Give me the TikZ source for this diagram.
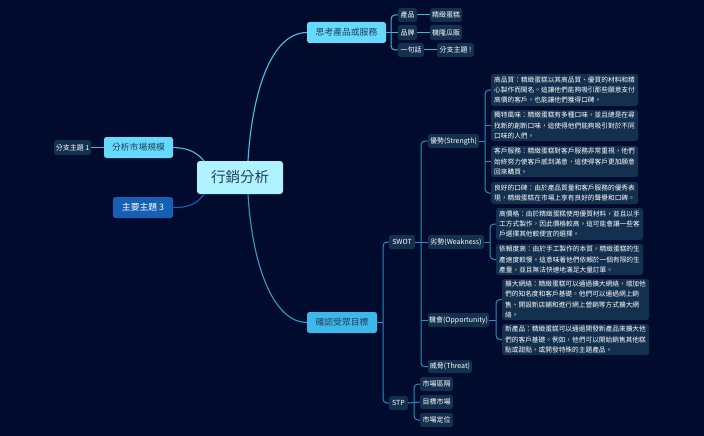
\documentclass[tikz,border=0pt]{standalone}
\usepackage{fontspec}
\setmainfont{Noto Sans CJK TC}
\definecolor{bgc}{HTML}{000B2E}
\definecolor{leafc}{HTML}{14304F}
\definecolor{linec}{HTML}{2A8CBF}
\definecolor{linet}{HTML}{45B4D6}
\definecolor{rootc}{HTML}{AFF3FF}
\definecolor{mainc}{HTML}{66D9FF}
\definecolor{audc}{HTML}{3DB8E8}
\definecolor{bluec}{HTML}{1560B5}
\definecolor{inkc}{HTML}{23405A}
\tikzset{
  x=1pt,y=-1pt,
  boxbase/.style={rounded corners=2.5pt,inner sep=0pt,anchor=center},
  leaf/.style={boxbase,fill=leafc,text=white,font=\fontsize{7}{8}\selectfont},
  para/.style={boxbase,fill=leafc,text=white,font=\fontsize{6.7}{10.2}\selectfont,align=left},
  main/.style={boxbase,font=\fontsize{8.8}{10}\selectfont,text=inkc},
  conn/.style={draw=linec,line width=1pt,rounded corners=4pt},
  connt/.style={draw=linet,line width=1pt,rounded corners=4pt},
  curve/.style={line width=1.1pt},
}
\newcommand{\bx}[7][leaf]{% style, name, x1,y1,x2,y2, text
  \node[#1,minimum width=#5pt-#3pt,minimum height=#6pt-#4pt] (#2) at ({(#3+#5)/2},{(#4+#6)/2}) {#7};}
\begin{document}
\begin{tikzpicture}
\useasboundingbox (0,0) rectangle (704,436);
\fill[bgc] (0,0) rectangle (704,436);

\bx[boxbase,fill=rootc,text=inkc,font=\fontsize{14.5}{16}\selectfont,rounded corners=3pt]{root}{197}{161}{283}{194}{行銷分析}
\bx[main,fill=mainc]{think}{307}{22}{386}{43}{思考產品或服務}
\bx[main,fill=audc]{aud}{307}{312}{377}{333}{確認受眾目標}
\bx[main,fill=mainc]{scale}{104}{137}{173}{158}{分析市場規模}
\bx[main,fill=bluec,text=white]{t3}{113}{197}{173}{218}{主要主題 3}
\bx{b1}{54}{140}{91}{155}{分支主題 1}

\bx{prod}{398}{8}{417}{22}{產品}
\bx{cake}{430}{8}{462}{22}{精緻蛋糕}
\bx{brand}{398}{25}{417}{40}{品牌}
\bx{brandv}{430}{25}{462}{40}{機隆瓜販}
\bx{sent}{398}{43}{424}{57}{一句話}
\bx{b2}{437}{43}{474}{57}{分支主題 !}

\bx{swot}{389}{235}{415}{249}{SWOT}
\bx{stp}{389}{396}{408}{410}{STP}
\bx{str}{428}{134}{479}{148}{優勢(Strength)}
\bx{wea}{428}{235}{484}{249}{劣勢(Weakness)}
\bx{opp}{428}{313}{489}{327}{機會(Opportunity)}
\bx{thr}{428}{360}{472}{373}{威脅(Threat)}
\bx{seg}{420}{377}{453}{391}{市場區隔}
\bx{tar}{420}{395}{453}{409}{目標市場}
\bx{pos}{420}{413}{453}{427}{市場定位}

\bx[para]{s1}{491}{74}{638}{106}{高品質：精緻蛋糕以其高品質、優質的材料和精\\心製作而聞名。這讓他們能夠吸引那些願意支付\\高價的客戶，也能讓他們獲得口碑。}
\bx[para]{s2}{491}{110}{638}{141}{獨特風味：精緻蛋糕有多種口味，並且總是在尋\\找新的創新口味，這使得他們能夠吸引對於不同\\口味的人們。}
\bx[para]{s3}{491}{146}{638}{177}{客戶服務：精緻蛋糕對客戶服務非常重視，他們\\始終努力使客戶感到滿意，這使得客戶更加願意\\回來購買。}
\bx[para]{s4}{491}{182}{638}{204}{良好的口碑：由於產品質量和客戶服務的優秀表\\現，精緻蛋糕在市場上享有良好的聲譽和口碑。}
\bx[para]{w1}{496}{208}{643}{240}{高價格：由於精緻蛋糕使用優質材料，並且以手\\工方式製作，因此價格較高。這可能會讓一些客\\戶選擇其他較便宜的選擇。}
\bx[para]{w2}{496}{244}{643}{275}{依賴度高：由於手工製作的本質，精緻蛋糕的生\\產速度較慢。這意味著他們依賴於一個有限的生\\產量，並且無法快速地滿足大量訂單。}
\bx[para]{o1}{502}{279}{649}{320}{擴大網絡：精緻蛋糕可以通過擴大網絡，增加他\\們的知名度和客戶基礎。他們可以通過網上銷\\售、開設新店鋪和進行網上營銷等方式擴大網\\絡。}
\bx[para]{o2}{502}{324}{649}{355}{新產品：精緻蛋糕可以通過開發新產品來擴大他\\們的客戶基礎。例如，他們可以開始銷售其他糕\\點或甜點，或開發特殊的主題產品。}

\coordinate (rt) at (root.north east -| 248,0);
\coordinate (rb) at (root.south east -| 248,0);
\draw[curve,draw=linet!70!mainc] (rt) .. controls (252,95) and (270,33) .. (think.west);
\draw[curve,draw=audc!85!black] (rb) .. controls (252,262) and (272,322) .. (aud.west);
\draw[curve,draw=mainc!85!black] (scale.east) .. controls (185,148) and (195,150) .. (204,161);
\draw[curve,draw=bluec] (t3.east) .. controls (185,208) and (197,205) .. (204,194);
\draw[connt] (b1.east) -- (scale.west);

\draw[connt] (think.east) -- (brand.west);
\draw[connt] (prod.west) -- (391,15) -- (391,50) -- (sent.west);
\draw[connt] (prod.east) -- (cake.west);
\draw[connt] (brand.east) -- (brandv.west);
\draw[connt] (sent.east) -- (b2.west);

\draw[conn] (aud.east) -- (383,322.5);
\draw[conn] (swot.west) -- (383,242) -- (383,403) -- (stp.west);
\draw[conn] (swot.east) -- (wea.west);
\draw[conn] (str.west) -- (421,141) -- (421,367) -- (thr.west);
\draw[conn] (421,320) -- (opp.west);
\draw[conn] (stp.east) -- (tar.west);
\draw[conn] (seg.west) -- (414,384) -- (414,420) -- (pos.west);

\draw[conn] (str.east) -- (485,141);
\draw[conn] (s1.west) -- (485,90) -- (485,193) -- (s4.west);
\draw[conn] (485,125.5) -- (s2.west);
\draw[conn] (485,161.5) -- (s3.west);
\draw[conn] (wea.east) -- (490,242);
\draw[conn] (w1.west) -- (490,224) -- (490,259.5) -- (w2.west);
\draw[conn] (opp.east) -- (496,320);
\draw[conn] (o1.west) -- (496,299.5) -- (496,339.5) -- (o2.west);
\end{tikzpicture}
\end{document}
